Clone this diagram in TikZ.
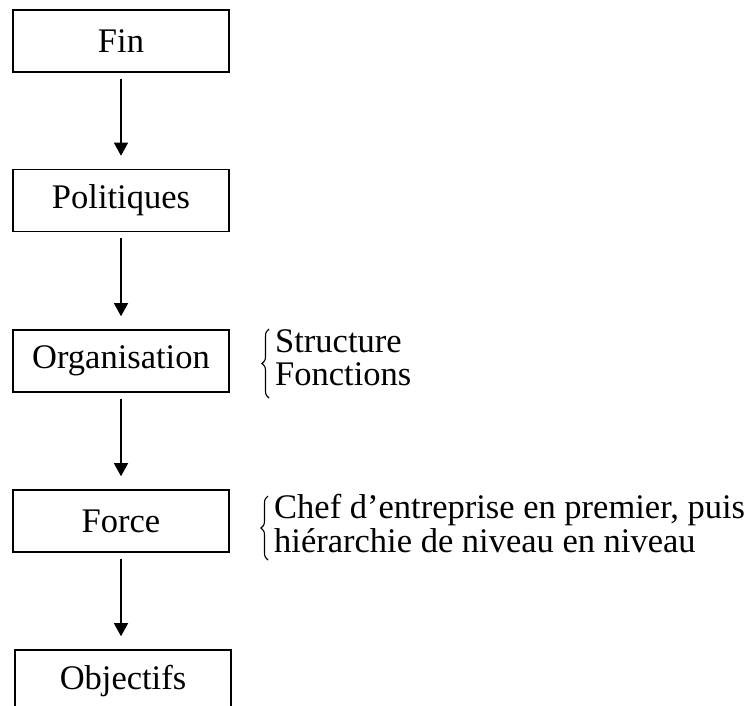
\documentclass[tikz,border=0pt]{standalone}
\usepackage{fontspec}
\setmainfont{Liberation Serif}
\usetikzlibrary{arrows.meta,decorations.pathreplacing}
\begin{document}
\begin{tikzpicture}[x=1pt,y=-1pt,
  box/.style={draw,line width=1.6pt,minimum width=216pt,minimum height=62pt,inner sep=0pt,font=\fontsize{34.5}{34}\selectfont},
  flow/.style={line width=1.3pt,-{Triangle[width=14pt,length=13pt]},shorten <=6pt,shorten >=13pt},
  side/.style={anchor=base west,inner sep=0pt,font=\fontsize{34.5}{34}\selectfont},
  curly/.style={decorate,decoration={brace,amplitude=7pt},line width=1.1pt}]
\useasboundingbox (0,0) rectangle (747,705);
\begin{scope}
\clip (0,0) rectangle (747,705);
\node[box] (fin) at (121,41) {Fin};
\node[box] (pol) at (121,200.5) {Politiques};
\node[box] (org) at (121,361) {Organisation};
\node[box] (for) at (121,521) {Force};
\node[box] (obj) at (123,681) {Objectifs};
\end{scope}
\draw[flow] (fin) -- (pol);
\draw[flow] (pol) -- (org);
\draw[flow] (org) -- (for);
\draw[flow] (for.south) -- (for.south |- obj.north);
\coordinate (b1a) at (269,398);
\coordinate (b1b) at (269,329);
\draw[curly] (b1a) -- (b1b);
\node[side] (s1) at (275,352) {Structure};
\node[side] (s2) at (275,385) {Fonctions};
\coordinate (b2a) at (268,560);
\coordinate (b2b) at (268,496);
\draw[curly] (b2a) -- (b2b);
\node[side] (c1) at (274,518) {Chef d’entreprise en premier, puis};
\node[side] (c2) at (274,552) {hiérarchie de niveau en niveau};
\end{tikzpicture}
\end{document}
